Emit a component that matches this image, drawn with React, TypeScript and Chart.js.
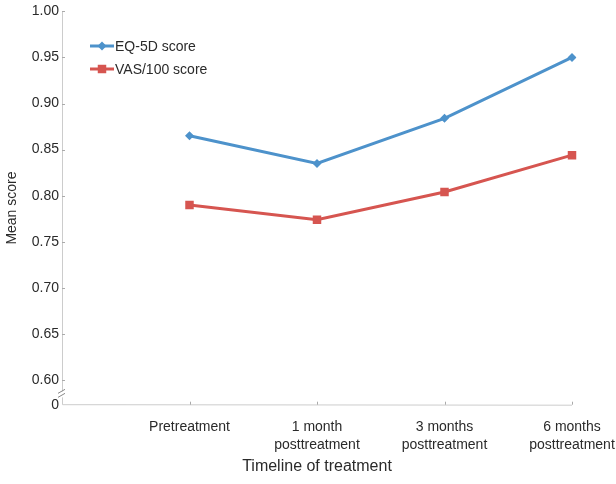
import React, { useEffect, useRef } from "react";
import { Chart, registerables } from "chart.js";

Chart.register(...registerables);

const categories: (string | string[])[] = [
  "",
  "Pretreatment",
  ["1 month", "posttreatment"],
  ["3 months", "posttreatment"],
  ["6 months", "posttreatment"],
];
const eq5dScores = [null, 0.865, 0.835, 0.884, 0.95];
const vasScores = [null, 0.79, 0.774, 0.804, 0.844];
const yTicks = [0.6, 0.65, 0.7, 0.75, 0.8, 0.85, 0.9, 0.95, 1.0];
const yBreakMin = 0.5732;

const BLUE = "#4d92cb";
const RED = "#d65550";
const AXIS = "#cccccc";
const TEXT = "#2a2a2a";
const FONT = "'Liberation Sans', Arial, sans-serif";

function drawMarker(ctx: CanvasRenderingContext2D, style: string, r: number, x: number, y: number, color: string) {
  ctx.fillStyle = color;
  ctx.beginPath();
  if (style === "rect") {
    const s = r * Math.SQRT1_2;
    ctx.rect(x - s, y - s, 2 * s, 2 * s);
  } else {
    ctx.moveTo(x, y - r);
    ctx.lineTo(x + r, y);
    ctx.lineTo(x, y + r);
    ctx.lineTo(x - r, y);
    ctx.closePath();
  }
  ctx.fill();
}

const decorations = {
  id: "decorations",
  afterDraw(chart: any) {
    const { ctx, chartArea } = chart;
    const { left, right, top, bottom } = chartArea;
    const xs = chart.scales.x;
    const ys = chart.scales.y;
    ctx.save();

    // axis lines
    ctx.strokeStyle = AXIS;
    ctx.lineWidth = 1;
    ctx.beginPath();
    ctx.moveTo(left + 0.5, top);
    ctx.lineTo(left + 0.5, bottom);
    ctx.lineTo(right, bottom + 0.5);
    ctx.stroke();

    // inner tick marks
    ctx.strokeStyle = "#aaaaaa";
    ctx.beginPath();
    yTicks.forEach((v) => {
      const y = Math.round(ys.getPixelForValue(v)) + 0.5;
      ctx.moveTo(left, y);
      ctx.lineTo(left + 3, y);
    });
    for (let i = 1; i < categories.length; i++) {
      const x = Math.round(xs.getPixelForValue(i)) + 0.5;
      ctx.moveTo(x, bottom);
      ctx.lineTo(x, bottom - 3);
    }
    ctx.stroke();

    // axis break
    const by = (ys.getPixelForValue(0.6) + bottom) / 2 + 2;
    ctx.fillStyle = "#ffffff";
    ctx.fillRect(left - 1, by - 3, 3, 6);
    ctx.strokeStyle = "#888888";
    ctx.beginPath();
    ctx.moveTo(left - 4, by - 1);
    ctx.lineTo(left + 3, by - 5);
    ctx.moveTo(left - 4, by + 3);
    ctx.lineTo(left + 3, by - 1);
    ctx.stroke();

    // legend
    const items = [
      { label: "EQ-5D score", color: BLUE, style: "rectRot", radius: 4.5 },
      { label: "VAS/100 score", color: RED, style: "rect", radius: 6 },
    ];
    ctx.font = `14px ${FONT}`;
    ctx.textBaseline = "middle";
    ctx.textAlign = "left";
    items.forEach((it, i) => {
      const y = 46 + i * 23;
      ctx.strokeStyle = it.color;
      ctx.lineWidth = 3;
      ctx.beginPath();
      ctx.moveTo(90, y);
      ctx.lineTo(114, y);
      ctx.stroke();
      drawMarker(ctx, it.style, it.radius, 102, y, it.color);
      ctx.fillStyle = TEXT;
      ctx.fillText(it.label, 115, y + 1);
    });

    // axis titles
    ctx.fillStyle = TEXT;
    ctx.font = `16px ${FONT}`;
    ctx.textAlign = "center";
    ctx.fillText("Timeline of treatment", (left + right) / 2, 467);
    ctx.font = `14px ${FONT}`;
    ctx.translate(12, (top + bottom) / 2);
    ctx.rotate(-Math.PI / 2);
    ctx.fillText("Mean score", 0, 0);
    ctx.restore();
  },
};

const App = () => {
  const chartRef = useRef<HTMLCanvasElement>(null);

  useEffect(() => {
    document.body.style.margin = "0";
    if (!chartRef.current) return;

    const chart = new Chart(chartRef.current, {
      type: "line",
      data: {
        labels: categories,
        datasets: [
          {
            label: "EQ-5D score",
            data: eq5dScores,
            borderColor: BLUE,
            backgroundColor: BLUE,
            borderWidth: 3,
            pointStyle: "rectRot",
            pointRadius: 4.5,
            pointBorderWidth: 0,
            tension: 0,
          },
          {
            label: "VAS/100 score",
            data: vasScores,
            borderColor: RED,
            backgroundColor: RED,
            borderWidth: 3,
            pointStyle: "rect",
            pointRadius: 6,
            pointBorderWidth: 0,
            tension: 0,
          },
        ],
      },
      options: {
        animation: false,
        responsive: true,
        maintainAspectRatio: false,
        layout: { padding: { top: 11, right: 44, left: 0, bottom: 0 } },
        plugins: {
          legend: { display: false },
          tooltip: { enabled: false },
        },
        scales: {
          x: {
            offset: false,
            border: { display: false },
            grid: { display: false, drawTicks: false },
            ticks: {
              color: TEXT,
              font: { family: FONT, size: 14, lineHeight: 1.3 },
              padding: 13,
              maxRotation: 0,
              autoSkip: false,
            },
            afterFit: (s: any) => {
              s.height = 79.3;
              s.paddingLeft = 0;
              s.paddingRight = 0;
            },
          },
          y: {
            min: yBreakMin,
            max: 1.0,
            border: { display: false },
            grid: { display: false, drawTicks: false },
            afterBuildTicks: (s: any) => {
              s.ticks = [{ value: yBreakMin }, ...yTicks.map((v) => ({ value: v }))];
            },
            ticks: {
              color: TEXT,
              font: { family: FONT, size: 14 },
              padding: 3,
              callback: (v: any) => (v === yBreakMin ? "0" : Number(v).toFixed(2)),
            },
            afterFit: (s: any) => {
              s.width = 62;
            },
          },
        },
      },
      plugins: [decorations],
    });

    return () => {
      chart.destroy();
    };
  }, []);

  return (
    <div style={{ width: "616px", height: "484px", position: "relative" }}>
      <canvas ref={chartRef}></canvas>
    </div>
  );
};

export default App;
